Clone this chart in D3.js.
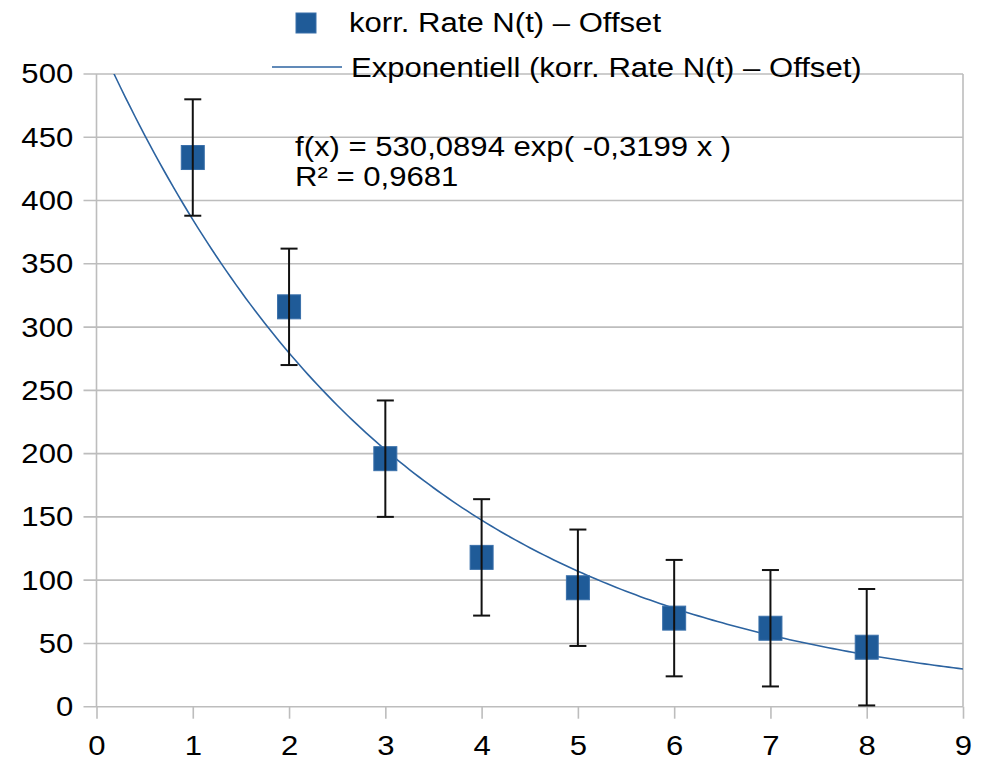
<!DOCTYPE html>
<html>
<head>
<meta charset="utf-8">
<script src="https://cdn.jsdelivr.net/npm/d3@7"></script>
<style>
  body { margin: 0; background: white; }
  text { font-family: "Liberation Sans", Arial, sans-serif; fill: #000; }
</style>
</head>
<body>
<div id="chart"></div>
<script>

// data
var xValues = [1, 2, 3, 4, 5, 6, 7, 8];
var rateValues = [434, 316, 196, 118, 94, 70, 62, 47];
var errValues = [46, 46, 46, 46, 46, 46, 46, 46];
var xTicks = [0, 1, 2, 3, 4, 5, 6, 7, 8, 9];
var yTicks = [0, 50, 100, 150, 200, 250, 300, 350, 400, 450, 500];
var seriesName = "korr. Rate N(t) – Offset";
var trendName = "Exponentiell (korr. Rate N(t) – Offset)";
var fitA = 530.0894, fitB = -0.3199;
var eqLines = ["f(x) = 530,0894 exp( -0,3199 x )", "R² = 0,9681"];

var width = 984,
    height = 759,
    plotLeft = 96.5, plotRight = 963,
    plotTop = 74, plotBottom = 706.7,
    fontSize = 28,
    stretch = "scale(1.11,1)";

var blue = "#1f5b98",
    grid = "#bdbdbd";

var svg = d3.select("#chart").append("svg")
    .attr("width", width)
    .attr("height", height);

var x = d3.scaleLinear().domain([0, 9]).range([plotLeft, plotRight]);
var y = d3.scaleLinear().domain([0, 500]).range([plotBottom, plotTop]);

// horizontal grid
svg.append("g").selectAll("line")
    .data(yTicks)
    .enter().append("line")
    .attr("x1", plotLeft - 13)
    .attr("x2", plotRight)
    .attr("y1", d => y(d))
    .attr("y2", d => y(d))
    .attr("stroke", grid)
    .attr("stroke-width", 1.6);

// left + right frame lines
svg.append("g").selectAll("line")
    .data([0, 9])
    .enter().append("line")
    .attr("x1", d => x(d))
    .attr("x2", d => x(d))
    .attr("y1", plotTop)
    .attr("y2", plotBottom)
    .attr("stroke", grid)
    .attr("stroke-width", 1.6);

// y axis labels
var yAxis = svg.append("g")
    .attr("transform", "translate(" + plotLeft + ",0)")
    .call(d3.axisLeft(y).tickValues(yTicks).tickSize(13).tickPadding(8));
yAxis.select(".domain").remove();
yAxis.selectAll("line").remove();
yAxis.selectAll("text")
    .attr("font-size", fontSize)
    .attr("font-family", null)
    .attr("transform", stretch);

// x axis
var xAxis = svg.append("g")
    .attr("transform", "translate(0," + plotBottom + ")")
    .call(d3.axisBottom(x).tickValues(xTicks).tickSize(12).tickPadding(16));
xAxis.select(".domain").remove();
xAxis.selectAll("line")
    .attr("stroke", grid)
    .attr("stroke-width", 1.6);
xAxis.selectAll("text")
    .attr("font-size", fontSize)
    .attr("font-family", null)
    .attr("transform", stretch);

// trend line
svg.append("clipPath").attr("id", "plotclip")
    .append("rect")
    .attr("x", plotLeft).attr("y", plotTop)
    .attr("width", plotRight - plotLeft).attr("height", plotBottom - plotTop);

var curve = d3.range(0, 9.001, 0.05).map(t => [t, fitA * Math.exp(fitB * t)]);

svg.append("path")
    .datum(curve)
    .attr("clip-path", "url(#plotclip)")
    .attr("fill", "none")
    .attr("stroke", "#2c63a0")
    .attr("stroke-width", 1.6)
    .attr("d", d3.line().x(d => x(d[0])).y(d => y(d[1])));

var pts = xValues.map((d, i) => ({x: d, v: rateValues[i], e: errValues[i]}));

// markers
svg.append("g").selectAll("rect")
    .data(pts)
    .enter().append("rect")
    .attr("x", d => x(d.x) - 11.5)
    .attr("y", d => y(d.v) - 12)
    .attr("width", 23)
    .attr("height", 24)
    .attr("fill", blue)
    .attr("stroke", "#3a70aa")
    .attr("stroke-width", 1);

// error bars
var bars = svg.append("g")
    .attr("stroke", "#111")
    .attr("stroke-width", 2);

bars.selectAll(".stem")
    .data(pts)
    .enter().append("line")
    .attr("x1", d => x(d.x)).attr("x2", d => x(d.x))
    .attr("y1", d => y(d.v + d.e)).attr("y2", d => y(d.v - d.e));

bars.selectAll(".capTop")
    .data(pts)
    .enter().append("line")
    .attr("x1", d => x(d.x) - 8.5).attr("x2", d => x(d.x) + 8.5)
    .attr("y1", d => y(d.v + d.e)).attr("y2", d => y(d.v + d.e));

bars.selectAll(".capBot")
    .data(pts)
    .enter().append("line")
    .attr("x1", d => x(d.x) - 8.5).attr("x2", d => x(d.x) + 8.5)
    .attr("y1", d => y(d.v - d.e)).attr("y2", d => y(d.v - d.e));

// equation
svg.append("g").selectAll("text")
    .data(eqLines)
    .enter().append("text")
    .attr("font-size", fontSize)
    .attr("transform", (d, i) => "translate(295," + (156 + i * 30) + ") " + stretch)
    .text(d => d);

// legend
var legend = svg.append("g");

legend.append("rect")
    .attr("x", 296).attr("y", 13)
    .attr("width", 20).attr("height", 20)
    .attr("fill", blue)
    .attr("stroke", "#3a70aa")
    .attr("stroke-width", 1);

legend.append("text")
    .attr("font-size", fontSize)
    .attr("transform", "translate(349,32) " + stretch)
    .text(seriesName);

legend.append("line")
    .attr("x1", 272).attr("x2", 342)
    .attr("y1", 67).attr("y2", 67)
    .attr("stroke", "#2c63a0")
    .attr("stroke-width", 1.6);

legend.append("text")
    .attr("font-size", fontSize)
    .attr("transform", "translate(351,77) " + stretch)
    .text(trendName);

</script>
</body>
</html>
